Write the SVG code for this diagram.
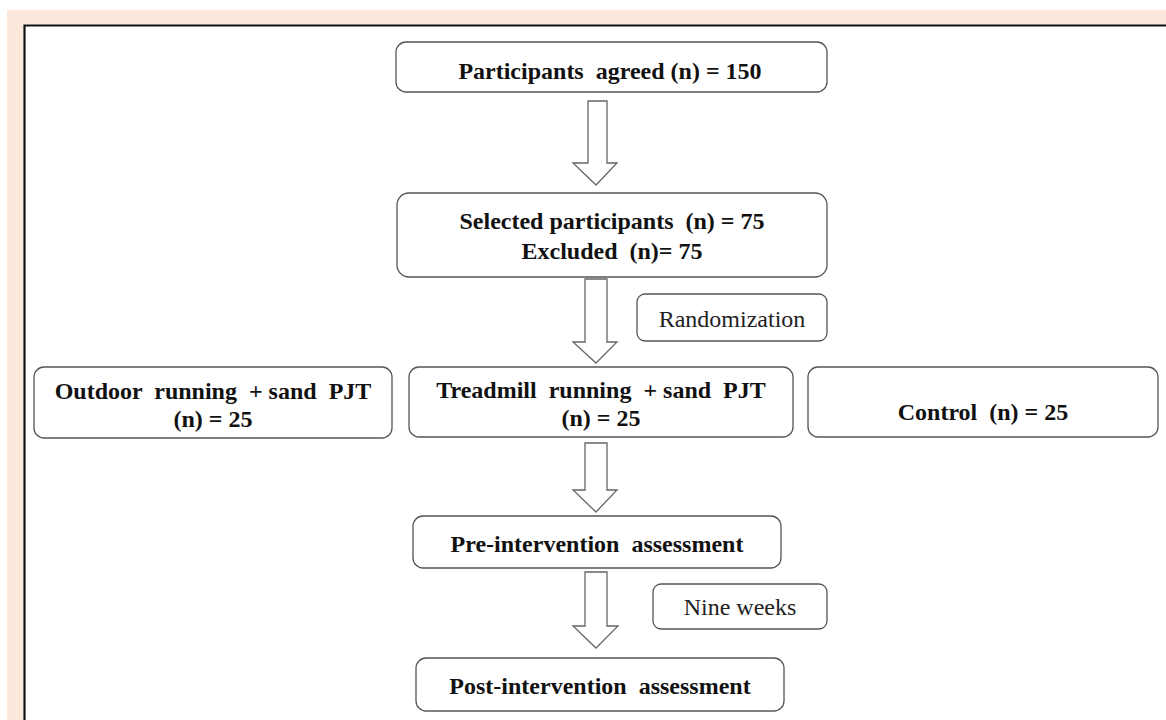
<svg xmlns="http://www.w3.org/2000/svg" width="1166" height="720" viewBox="0 0 1166 720">
<style>
.box{fill:#fff;stroke:#555;stroke-width:1.3}
.arr{fill:#fff;stroke:#666;stroke-width:1.3;stroke-linejoin:miter}
.b{font-family:"Liberation Serif","Times New Roman",serif;font-weight:bold;font-size:24px;fill:#111;text-anchor:middle;white-space:pre}
.n{font-family:"Liberation Serif","Times New Roman",serif;font-size:24px;fill:#222;text-anchor:middle;white-space:pre}
</style>
<rect x="0" y="0" width="1166" height="720" fill="#fff"/>
<rect x="7" y="10" width="1159" height="710" fill="#FCE9DB"/>
<rect x="23" y="25" width="1143" height="695" fill="#fff"/>
<path d="M24.5 720 V25.5 H1166" fill="none" stroke="#111" stroke-width="2.2"/>
<g id="connectors">
<path class="arr" d="M588 101 H607 V163 H617 L596 185 L573 163 H588 Z"/>
<path class="arr" d="M585 279 H607 V342 H617 L596 363 L573 342 H585 Z"/>
<path class="arr" d="M585 443 H607 V490 H617 L596 512 L573 490 H585 Z"/>
<path class="arr" d="M585 572 H607 V626 H618 L596 648 L573 626 H585 Z"/>
</g>
<g id="n1"><rect class="box" x="396" y="42" width="431" height="50" rx="10"/><text class="b" x="610" y="79">Participants  agreed (n) = 150</text></g>
<g id="n2"><rect class="box" x="397" y="193" width="430" height="84" rx="12"/><text class="b" x="612" y="229">Selected participants  (n) = 75</text><text class="b" x="612" y="259">Excluded  (n)= 75</text></g>
<g id="n3"><rect class="box" x="637" y="294" width="190" height="47" rx="8"/><text class="n" x="732" y="327">Randomization</text></g>
<g id="n4"><rect class="box" x="34" y="367" width="358" height="71" rx="10"/><text class="b" x="213" y="399">Outdoor  running  + sand  PJT</text><text class="b" x="213" y="427">(n) = 25</text></g>
<g id="n5"><rect class="box" x="409" y="367" width="384" height="70" rx="10"/><text class="b" x="601" y="398">Treadmill  running  + sand  PJT</text><text class="b" x="601" y="426">(n) = 25</text></g>
<g id="n6"><rect class="box" x="808" y="367" width="350" height="70" rx="10"/><text class="b" x="983" y="420">Control  (n) = 25</text></g>
<g id="n7"><rect class="box" x="413" y="516" width="368" height="52" rx="10"/><text class="b" x="597" y="552">Pre-intervention  assessment</text></g>
<g id="n8"><rect class="box" x="653" y="584" width="174" height="45" rx="8"/><text class="n" x="740" y="615">Nine weeks</text></g>
<g id="n9"><rect class="box" x="416" y="658" width="368" height="53" rx="10"/><text class="b" x="600" y="694">Post-intervention  assessment</text></g>
</svg>
